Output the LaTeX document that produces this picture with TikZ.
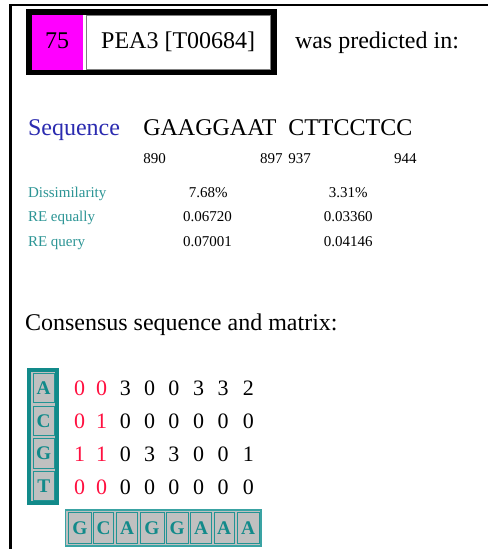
\documentclass[tikz,border=0pt]{standalone}
\usepackage{fontspec}
\setmainfont{Liberation Serif}
\definecolor{magbox}{HTML}{FF00FF}
\definecolor{tealdk}{HTML}{128A8A}
\definecolor{tealcell}{HTML}{229494}
\definecolor{teallt}{HTML}{3AA3A3}
\definecolor{tealtxt}{HTML}{2C9595}
\definecolor{cellgray}{HTML}{C0C0C0}
\definecolor{seqblue}{HTML}{2B2BB0}
\definecolor{numred}{HTML}{FF1040}
\tikzset{
  txt/.style={inner sep=0pt, outer sep=0pt},
  big/.style={txt, font=\fontsize{18}{20}\selectfont},
  small/.style={txt, font=\fontsize{11.25}{13}\selectfont},
  lbl/.style={small, text=tealtxt},
  mnum/.style={txt, anchor=base, font=\fontsize{16.5}{18}\selectfont},
  rednum/.style={mnum, text=numred},
  blknum/.style={mnum, text=black},
  lcell/.style={draw=tealcell, line width=0.75pt, fill=cellgray, inner sep=0pt,
    minimum width=16pt, minimum height=22pt, text=tealdk,
    font=\fontsize{14.5}{16}\selectfont\bfseries},
  bcell/.style={draw=tealcell, line width=0.75pt, fill=cellgray, inner sep=0pt,
    minimum height=23pt, text=tealdk,
    font=\fontsize{14.5}{16}\selectfont\bfseries},
}
\begin{document}
\begin{tikzpicture}[x=0.75pt,y=-0.75pt]
\useasboundingbox (0,0) rectangle (488,549);
\fill[white] (0,0) rectangle (488,549);
% page frame
\draw[line width=1.9pt] (10.5,549) -- (10.5,5) -- (488,5);
% header
\fill[black] (26,9) rectangle (277,75);
\fill[magbox] (31.7,15) rectangle (82.7,70);
\fill[white] (82.7,15) rectangle (85.5,70);
\draw[fill=white, draw=gray, line width=0.75pt] (86,15.5) rectangle (270,69.5);
\node[big, anchor=base] (num) at (57.2,48.3) {75};
\node[big, anchor=base] (tf) at (178.2,48.3) {PEA3 [T00684]};
\node[big, anchor=base west] (pred) at (295,48.3) {was predicted in:};
% sequence
\node[big, anchor=base west, text=seqblue] (seqlbl) at (28,136) {Sequence};
\node[big, anchor=base west] (seqA) at (143.3,136) {GAAGGAAT};
\node[big, anchor=base west] (seqB) at (288.3,136) {CTTCCTCC};
\node[small, anchor=base west] (p1) at (143.3,163.3) {890};
\node[small, anchor=base east] (p2) at (282.7,163.3) {897};
\node[small, anchor=base west] (p3) at (288.3,163.3) {937};
\node[small, anchor=base east] (p4) at (416.7,163.3) {944};
% statistics
\node[lbl, anchor=base west] (l1) at (28,197.3) {Dissimilarity};
\node[lbl, anchor=base west] (l2) at (28,221.7) {RE equally};
\node[lbl, anchor=base west] (l3) at (28,246.3) {RE query};
\node[small, anchor=base] (v11) at (208.3,197.3) {7.68\%};
\node[small, anchor=base] (v12) at (348.3,197.3) {3.31\%};
\node[small, anchor=base] (v21) at (207.5,221.7) {0.06720};
\node[small, anchor=base] (v22) at (348.3,221.7) {0.03360};
\node[small, anchor=base] (v31) at (207.5,246.3) {0.07001};
\node[small, anchor=base] (v32) at (348.3,246.3) {0.04146};
% consensus heading
\node[big, anchor=base west] (cons) at (25,330) {Consensus sequence and matrix:};
% left letter column
\fill[cellgray] (27.3,368.3) rectangle (59.3,505);
\draw[tealdk, line width=3pt] (29.3,370.3) rectangle (57.3,503);
\node[lcell] (cA) at (43.7,388.1) {A};
\node[lcell] (cC) at (43.7,420.8) {C};
\node[lcell] (cG) at (43.7,453.5) {G};
\node[lcell] (cT) at (43.7,486.2) {T};
% matrix numbers
\foreach \r/\y/\vals in {1/395/{0,0,3,0,0,3,3,2},2/428.3/{0,1,0,0,0,0,0,0},3/461.7/{1,1,0,3,3,0,0,1},4/494.3/{0,0,0,0,0,0,0,0}}{
  \foreach \v [count=\c] in \vals {
    \pgfmathsetmacro{\xx}{{79.5,101.7,125.3,149.5,173.8,198.7,223.2,248.3}[\c-1]}
    \ifnum\c<3
      \node[rednum] (m\r\c) at (\xx,\y) {\v};
    \else
      \node[blknum] (m\r\c) at (\xx,\y) {\v};
    \fi
  }
}
% bottom consensus letters
\draw[fill=cellgray, draw=teallt, line width=1.2pt] (65.5,509.8) rectangle (261.2,546.2);
\foreach \L/\cx/\w [count=\i] in {G/80/17.5,C/103.65/15.5,A/127/15.5,G/152/18,G/177.15/16.7,A/201.2/15.7,A/224/15,A/248.15/16.3}{
  \node[bcell, minimum width=\w pt] (b\i) at (\cx,528) {\L};
}
\end{tikzpicture}
\end{document}
